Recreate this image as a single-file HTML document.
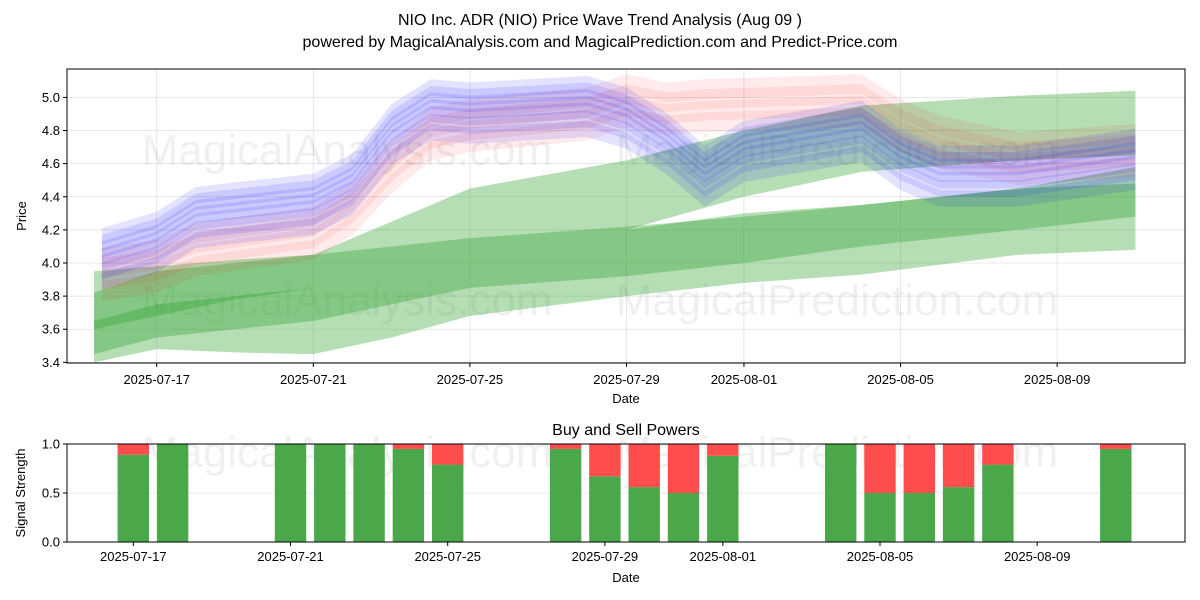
<!DOCTYPE html>
<html><head><meta charset="utf-8"><style>
body{margin:0;background:#fff;}
svg{display:block;font-family:"Liberation Sans","DejaVu Sans",sans-serif;}
</style></head><body>
<svg id="c" width="1200" height="600" viewBox="0 0 1200 600">
<rect width="1200" height="600" fill="#fff"/>
<text x="600" y="25" text-anchor="middle" font-size="16">NIO Inc. ADR (NIO) Price Wave Trend Analysis (Aug 09 )</text>
<text x="600" y="47" text-anchor="middle" font-size="16">powered by MagicalAnalysis.com and MagicalPrediction.com and Predict-Price.com</text>
<g id="topPanel"></g>
<g id="botPanel"></g>
</svg>
<script>
const priceTicks=[3.4,3.6,3.8,4.0,4.2,4.4,4.6,4.8,5.0];
const dateLabels=["2025-07-17","2025-07-21","2025-07-25","2025-07-29","2025-08-01","2025-08-05","2025-08-09"];
const dateDays=[0,4,8,12,15,19,23];
const blueDays=[-1.4,0,1,4,5,6,7,8,11,12,13,14,15,18,19,20,22,25];
const bluePrice=[4.05,4.15,4.3,4.38,4.5,4.8,4.95,4.93,4.97,4.9,4.75,4.55,4.7,4.82,4.65,4.55,4.55,4.65];
const redDays=[-1.4,0,1,4,5,6,7,8,11,12,13,14,18,19,20,22,25];
const redPrice=[3.95,4.0,4.1,4.2,4.35,4.6,4.8,4.85,4.92,5.0,4.95,4.97,5.0,4.85,4.75,4.65,4.7];
const greenDays=[-1.6,0,2,4,6,8,12,15,18,22,25];
const green1Upper=[3.95,3.98,4.02,4.05,4.25,4.45,4.62,4.8,4.95,5.01,5.04];
const green1Lower=[3.6,3.68,3.78,3.85,3.95,4.1,4.2,4.4,4.55,4.62,4.65];
const green2Upper=[3.82,3.95,4.0,4.05,4.1,4.15,4.22,4.28,4.35,4.45,4.58];
const green2Lower=[3.45,3.55,3.6,3.65,3.75,3.85,3.92,4.0,4.1,4.2,4.28];
const green3Upper=[3.65,3.75,3.8,3.85,3.95,4.1,4.2,4.3,4.35,4.45,4.48];
const green3Lower=[3.4,3.48,3.46,3.45,3.55,3.68,3.8,3.88,3.93,4.05,4.08];
const barDays=[0,1,4,5,6,7,8,11,12,13,14,15,18,19,20,21,22,25];
const buyPower=[0.89,1,1,1,1,0.95,0.79,0.95,0.67,0.56,0.5,0.88,1,0.5,0.5,0.56,0.79,0.95];
const sigTicks=[0,0.5,1];

const NS="http://www.w3.org/2000/svg";
function mk(p,t,a,txt){const e=document.createElementNS(NS,t);for(const k in a)e.setAttribute(k,a[k]);if(txt!==undefined)e.textContent=txt;p.appendChild(e);return e;}
const topG=document.getElementById('topPanel'),botG=document.getElementById('botPanel');
const L=67,R=1185,T=69,B=363;
const xT=d=>156.7+d*39.15, yT=p=>263-(p-4)*165.6;
const BT=444,BB=542;
const xB=d=>133.3+d*39.3, yB=v=>BB-v*(BB-BT);

priceTicks.forEach(p=>{mk(topG,'line',{x1:L,x2:R,y1:yT(p),y2:yT(p),stroke:'#e0e0e0','stroke-width':0.8});});
dateDays.forEach(d=>{mk(topG,'line',{x1:xT(d),x2:xT(d),y1:T,y2:B,stroke:'#e0e0e0','stroke-width':0.8});});
[[347,150,'MagicalAnalysis.com'],[837,150,'MagicalPrediction.com'],[347,300,'MagicalAnalysis.com'],[837,300,'MagicalPrediction.com'],[347,452,'MagicalAnalysis.com'],[837,452,'MagicalPrediction.com']].forEach(w=>{
 const t=mk(topG,'text',{x:w[0],y:w[1]+15,'text-anchor':'middle','font-size':44,fill:'#000','fill-opacity':0.06},w[2]);
 
 
});
function band(days,up,lo,fill,op,name){
 let pts=days.map((d,i)=>xT(d)+','+yT(up[i]));
 for(let i=days.length-1;i>=0;i--)pts.push(xT(days[i])+','+yT(lo[i]));
 const e=mk(topG,'polygon',{points:pts.join(' '),fill:fill,'fill-opacity':op});
 
 
}
band(greenDays,green1Upper,green1Lower,'#2ca02c',0.35,'green-band-upper');
band(greenDays,green2Upper,green2Lower,'#2ca02c',0.35,'green-band-middle');
band(greenDays,green3Upper,green3Lower,'#2ca02c',0.35,'green-band-lower');
[-0.12,-0.05,0.02,0.08].forEach(o=>{
 band(redDays,redPrice.map(v=>v+o+0.06),redPrice.map(v=>v+o-0.06),'#ff0000',0.08,'red-wave-band');
});
[-0.16,-0.1,-0.05,-0.01,0.03,0.07,0.11].forEach(o=>{
 band(blueDays,bluePrice.map(v=>v+o+0.05),bluePrice.map(v=>v+o-0.05),'#0000ff',0.11,'blue-wave-band');
});
mk(topG,'rect',{x:L,y:T,width:R-L,height:B-T,fill:'none',stroke:'#000','stroke-width':1});
priceTicks.forEach(p=>{
 mk(topG,'line',{x1:L-4,x2:L,y1:yT(p),y2:yT(p),stroke:'#000'});
 const t=mk(topG,'text',{x:L-7,y:yT(p)+4.5,'text-anchor':'end','font-size':13},p.toFixed(1));
 
 
});
dateDays.forEach((d,i)=>{
 mk(topG,'line',{x1:xT(d),x2:xT(d),y1:B,y2:B+4,stroke:'#000'});
 const t=mk(topG,'text',{x:xT(d),y:B+21,'text-anchor':'middle','font-size':13},dateLabels[i]);
 
 
});
mk(topG,'text',{x:626,y:403,'text-anchor':'middle','font-size':13,},'Date');
mk(topG,'text',{x:26,y:216,'text-anchor':'middle','font-size':13,transform:'rotate(-90 26 216)',},'Price');

mk(botG,'text',{x:626,y:435,'text-anchor':'middle','font-size':16,},'Buy and Sell Powers');
sigTicks.forEach(v=>{mk(botG,'line',{x1:L,x2:R,y1:yB(v),y2:yB(v),stroke:'#e0e0e0','stroke-width':0.8});});
barDays.forEach((d,i)=>{
 const x=xB(d)-15.7,w=31.4;
 const g=mk(botG,'rect',{x:x,y:yB(buyPower[i]),width:w,height:yB(0)-yB(buyPower[i]),fill:'#4aa74a'});
 
 
 const r=mk(botG,'rect',{x:x,y:yB(1),width:w,height:yB(buyPower[i])-yB(1),fill:'#ff4c4c'});
 
 
});
mk(botG,'rect',{x:L,y:BT,width:R-L,height:BB-BT,fill:'none',stroke:'#000','stroke-width':1});
sigTicks.forEach(v=>{
 mk(botG,'line',{x1:L-4,x2:L,y1:yB(v),y2:yB(v),stroke:'#000'});
 const t=mk(botG,'text',{x:L-7,y:yB(v)+4.5,'text-anchor':'end','font-size':13},v.toFixed(1));
 
 
});
dateDays.forEach((d,i)=>{
 mk(botG,'line',{x1:xB(d),x2:xB(d),y1:BB,y2:BB+4,stroke:'#000'});
 const t=mk(botG,'text',{x:xB(d),y:BB+19,'text-anchor':'middle','font-size':13},dateLabels[i]);
 
 
});
mk(botG,'text',{x:626,y:582,'text-anchor':'middle','font-size':13,},'Date');
mk(botG,'text',{x:25,y:493,'text-anchor':'middle','font-size':13,transform:'rotate(-90 25 493)',},'Signal Strength');
</script>
</body></html>
